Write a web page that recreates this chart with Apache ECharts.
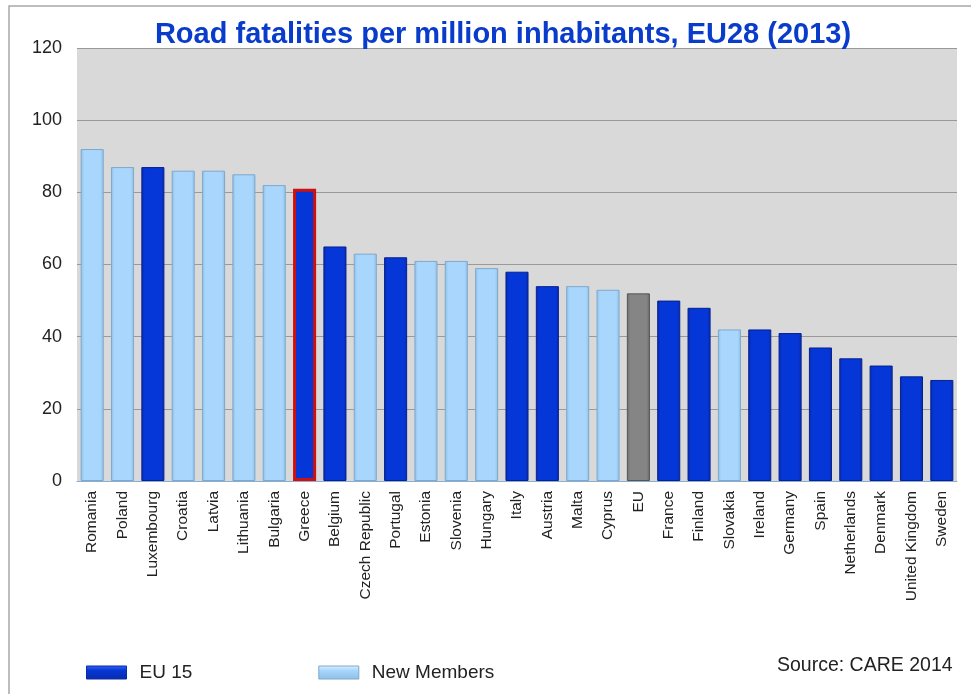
<!DOCTYPE html>
<html><head><meta charset="utf-8">
<script src="https://cdn.jsdelivr.net/npm/echarts@6/dist/echarts.min.js"></script>
<style>html,body{margin:0;padding:0;background:#fff}#c{width:971px;height:694px}</style>
</head><body><div id="c"></div>
<script>
const categories = ["Romania","Poland","Luxembourg","Croatia","Latvia","Lithuania","Bulgaria","Greece","Belgium","Czech Republic","Portugal","Estonia","Slovenia","Hungary","Italy","Austria","Malta","Cyprus","EU","France","Finland","Slovakia","Ireland","Germany","Spain","Netherlands","Denmark","United Kingdom","Sweden"];
const values = [92,87,87,86,86,85,82,81,65,63,62,61,61,59,58,54,54,53,52,50,48,42,42,41,37,34,32,29,28];
const groups = ["N","N","E","N","N","N","N","E","E","N","E","N","N","N","E","E","N","N","A","E","E","N","E","E","E","E","E","E","E"];
const yTicks = [0,20,40,60,80,100,120];

const darkGrad = new echarts.graphic.LinearGradient(0,0,1,0,[{offset:0,color:'#0a2aa8'},{offset:0.15,color:'#0537d8'},{offset:0.85,color:'#0537d8'},{offset:1,color:'#0a2aa8'}]);
const lightGrad = new echarts.graphic.LinearGradient(0,0,1,0,[{offset:0,color:'#8fbfe6'},{offset:0.15,color:'#a8d6fc'},{offset:0.85,color:'#a8d6fc'},{offset:1,color:'#8fbfe6'}]);
const greyGrad = new echarts.graphic.LinearGradient(0,0,1,0,[{offset:0,color:'#6a6a6a'},{offset:0.15,color:'#858585'},{offset:0.85,color:'#858585'},{offset:1,color:'#6a6a6a'}]);
const darkLeg = new echarts.graphic.LinearGradient(0,0,0,1,[{offset:0,color:'#3a66f0'},{offset:0.35,color:'#0537d8'},{offset:1,color:'#0a2aa8'}]);
const lightLeg = new echarts.graphic.LinearGradient(0,0,0,1,[{offset:0,color:'#e0f2ff'},{offset:0.35,color:'#a8d6fc'},{offset:1,color:'#8fbfe6'}]);

function pick(g){return values.map((v,i)=>{
  if(groups[i]!==g) return null;
  if(categories[i]==='Greece') return {value:v,itemStyle:{borderColor:'#d01010',borderWidth:3}};
  return v;});}

const chart = echarts.init(document.getElementById('c'));
chart.setOption({
  animation:false,
  backgroundColor:'#fff',
  title:{text:'Road fatalities per million inhabitants, EU28 (2013)',left:498,top:15,textAlign:'center',
    textStyle:{color:'#0a3ccc',fontSize:29,fontWeight:'bold',fontFamily:'Liberation Sans, Arial'}},
  legend:{left:81,top:658,itemWidth:40,itemHeight:13,itemGap:126,icon:'rect',
    data:[{name:'EU 15',itemStyle:{color:darkLeg,borderColor:'#0a2aa8',borderWidth:1}},{name:'New Members',itemStyle:{color:lightLeg,borderColor:'#7fa8cc',borderWidth:1}}],
    textStyle:{fontSize:19,color:'#222',fontFamily:'Liberation Sans, Arial',padding:[0,0,0,8]}},
  grid:{left:77,right:14,top:48,bottom:213},
  xAxis:{type:'category',data:categories,
    axisLine:{lineStyle:{color:'#8aaed0'}},axisTick:{show:false},
    axisLabel:{rotate:90,interval:0,fontSize:15.5,color:'#222',fontFamily:'Liberation Sans, Arial',margin:10}},
  yAxis:{type:'value',min:0,max:120,interval:20,
    axisLine:{show:false},axisTick:{show:false},
    axisLabel:{fontSize:18,color:'#222',fontFamily:'Liberation Sans, Arial',margin:15},
    splitLine:{lineStyle:{color:'#9a9a9a',width:1}},
    splitArea:{show:true,areaStyle:{color:['#d9d9d9','#d9d9d9']}}},
  graphic:[
    {type:'rect',shape:{x:9,y:6,width:980,height:700},style:{fill:null,stroke:'#a8a8a8',lineWidth:1.5},z:-1},
    {type:'text',left:777,top:656,style:{text:'Source: CARE 2014',fontSize:19.5,fill:'#222',fontFamily:'Liberation Sans, Arial'}}
  ],
  series:[
    {name:'EU 15',type:'bar',stack:'t',barWidth:'76%',data:pick('E'),itemStyle:{color:darkGrad,borderColor:'#062090',borderWidth:1}},
    {name:'New Members',type:'bar',stack:'t',barWidth:'76%',data:pick('N'),itemStyle:{color:lightGrad,borderColor:'#7fa8cc',borderWidth:1}},
    {name:'EU',type:'bar',stack:'t',barWidth:'76%',data:pick('A'),itemStyle:{color:greyGrad,borderColor:'#555',borderWidth:1}}
  ]
});
</script></body></html>
